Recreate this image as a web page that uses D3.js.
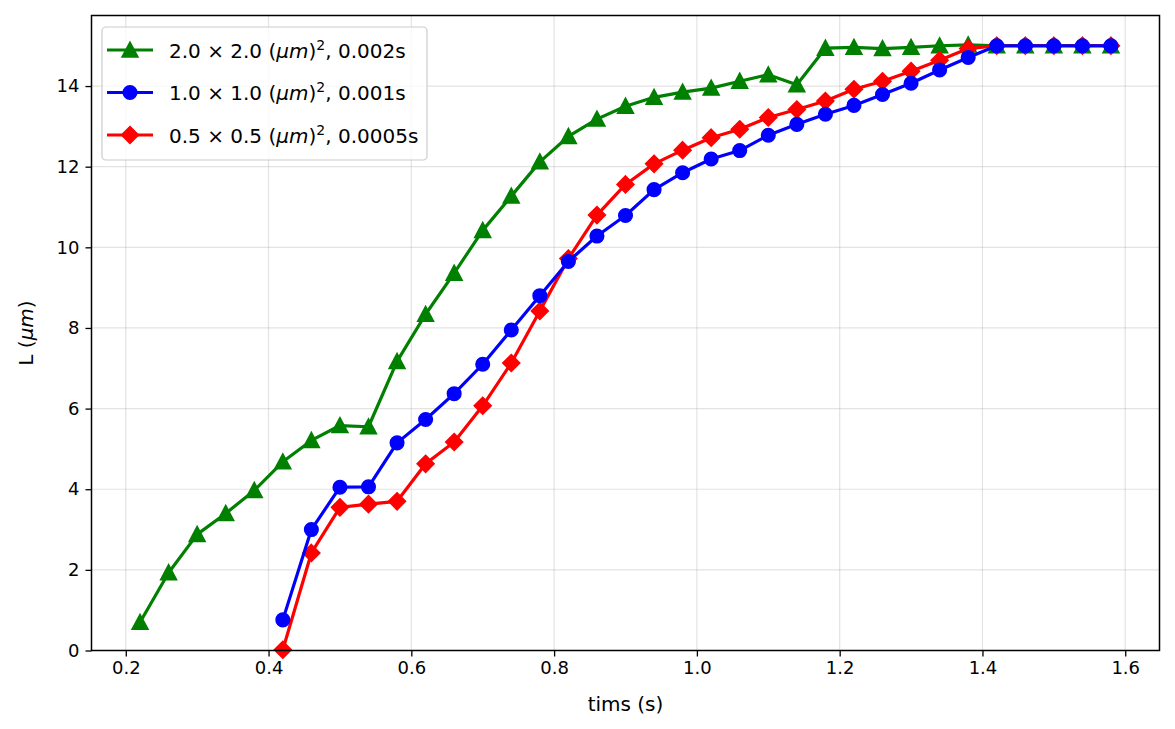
<!DOCTYPE html>
<html>
<head>
<meta charset="utf-8">
<script src="https://cdn.jsdelivr.net/npm/d3@7"></script>
<style>
  html, body { margin: 0; padding: 0; background: #fff; }
  svg { display: block; font-family: "DejaVu Sans", sans-serif; }
</style>
</head>
<body>
<svg id="chart" width="1175" height="729"></svg>
<script>
// ---------- data ----------
const timesGreen = [0.22,0.26,0.30,0.34,0.38,0.42,0.46,0.50,0.54,0.58,0.62,0.66,0.70,0.74,0.78,0.82,0.86,0.90,0.94,0.98,1.02,1.06,1.10,1.14,1.18,1.22,1.26,1.30,1.34,1.38,1.42,1.46,1.50,1.54,1.58];
const valuesGreen = [0.70,1.93,2.88,3.40,3.97,4.68,5.21,5.58,5.55,7.17,8.34,9.36,10.42,11.27,12.12,12.75,13.18,13.50,13.72,13.85,13.95,14.12,14.28,14.03,14.94,14.96,14.93,14.96,15.00,15.02,15.0,15.0,15.0,15.0,15.0];

const timesBlue = [0.42,0.46,0.50,0.54,0.58,0.62,0.66,0.70,0.74,0.78,0.82,0.86,0.90,0.94,0.98,1.02,1.06,1.10,1.14,1.18,1.22,1.26,1.30,1.34,1.38,1.42,1.46,1.50,1.54,1.58];
const valuesBlue = [0.76,3.00,4.05,4.06,5.15,5.73,6.37,7.10,7.95,8.80,9.65,10.28,10.79,11.43,11.85,12.19,12.40,12.78,13.05,13.30,13.52,13.79,14.07,14.40,14.71,15.0,15.0,15.0,15.0,15.0];

const timesRed = [0.42,0.46,0.50,0.54,0.58,0.62,0.66,0.70,0.74,0.78,0.82,0.86,0.90,0.94,0.98,1.02,1.06,1.10,1.14,1.18,1.22,1.26,1.30,1.34,1.38,1.42,1.46,1.50,1.54,1.58];
const valuesRed = [0.02,2.42,3.55,3.63,3.70,4.63,5.17,6.07,7.13,8.42,9.72,10.80,11.56,12.07,12.41,12.72,12.93,13.22,13.42,13.63,13.92,14.12,14.37,14.64,14.93,15.0,15.0,15.0,15.0,15.0];

const xTicks = [0.2,0.4,0.6,0.8,1.0,1.2,1.4,1.6];
const yTicks = [0,2,4,6,8,10,12,14];
const seriesNames = ["green","blue","red"];
const xLabel = "tims (s)";

// ---------- layout ----------
const svg = d3.select("#chart");
const L = 91.5, R = 1159.5, T = 15.5, B = 650.5;
const x = d3.scaleLinear().domain([0.152, 1.648]).range([L, R]);
const y = d3.scaleLinear().domain([0, 15.75]).range([B, T]);

// grid
const grid = svg.append("g");
grid.selectAll("line.gx").data(xTicks).enter().append("line")
  .attr("x1", d => x(d)).attr("x2", d => x(d)).attr("y1", T).attr("y2", B)
  .attr("stroke", "#b0b0b0").attr("stroke-opacity", 0.35).attr("stroke-width", 1.2);
grid.selectAll("line.gy").data(yTicks).enter().append("line")
  .attr("x1", L).attr("x2", R).attr("y1", d => y(d)).attr("y2", d => y(d))
  .attr("stroke", "#b0b0b0").attr("stroke-opacity", 0.35).attr("stroke-width", 1.2);

// axes
const xAxis = d3.axisBottom(x).tickValues(xTicks).tickFormat(d3.format(".1f")).tickSize(6).tickPadding(5);
const yAxis = d3.axisLeft(y).tickValues(yTicks).tickFormat(d3.format("d")).tickSize(6).tickPadding(6);
const gx = svg.append("g").attr("transform", `translate(0,${B})`).call(xAxis);
const gy = svg.append("g").attr("transform", `translate(${L},0)`).call(yAxis);
[gx, gy].forEach(g => {
  g.select(".domain").remove();
  g.selectAll(".tick line").attr("stroke", "#000").attr("stroke-width", 1.3);
  g.selectAll(".tick text").attr("fill", "#000").style("font-size", "18px").style("font-family", "DejaVu Sans");
});
gx.selectAll(".tick text").attr("dy", "0.71em");

// lines + markers
const lineGen = d3.line().x(d => x(d[0])).y(d => y(d[1]));
const series = {
  green: { t: timesGreen, v: valuesGreen, color: "#008000", marker: "triangle" },
  blue:  { t: timesBlue,  v: valuesBlue,  color: "#0000ff", marker: "circle" },
  red:   { t: timesRed,   v: valuesRed,   color: "#ff0000", marker: "diamond" }
};
function markerPath(type) {
  if (type === "triangle") return "M0,-8 L8,7 L-8,7 Z";
  if (type === "diamond") return "M0,-8.5 L8.5,0 L0,8.5 L-8.5,0 Z";
  return null;
}
function drawMarker(g, type, color, cx, cy) {
  if (type === "circle") {
    g.append("circle").attr("cx", cx).attr("cy", cy).attr("r", 6.8)
      .attr("fill", color).attr("stroke", color).attr("stroke-width", 1.5);
  } else {
    g.append("path").attr("d", markerPath(type)).attr("transform", `translate(${cx},${cy})`)
      .attr("fill", color).attr("stroke", color).attr("stroke-width", 1.5).attr("stroke-linejoin", "miter");
  }
}
const plot = svg.append("g");
["green", "red", "blue"].forEach(name => {
  const s = series[name];
  const pts = s.t.map((t, i) => [t, s.v[i]]);
  const g = plot.append("g");
  g.append("path").attr("d", lineGen(pts)).attr("fill", "none")
    .attr("stroke", s.color).attr("stroke-width", 3.2).attr("stroke-linejoin", "round");
  pts.forEach(p => drawMarker(g, s.marker, s.color, x(p[0]), y(p[1])));
});

// spines
svg.append("rect").attr("x", L).attr("y", T).attr("width", R - L).attr("height", B - T)
  .attr("fill", "none").attr("stroke", "#000").attr("stroke-width", 1.5);

// axis labels
svg.append("text").attr("x", (L + R) / 2).attr("y", 711).attr("text-anchor", "middle")
  .style("font-size", "20px").attr("fill", "#000").text(xLabel);
const yl = svg.append("text").attr("transform", `translate(33,${(T + B) / 2}) rotate(-90)`)
  .attr("text-anchor", "middle").style("font-size", "20px").attr("fill", "#000");
yl.append("tspan").text("L (");
yl.append("tspan").style("font-style", "italic").text("μm");
yl.append("tspan").text(")");

// legend
const leg = svg.append("g");
leg.append("rect").attr("x", 102).attr("y", 27).attr("width", 325).attr("height", 133)
  .attr("rx", 4).attr("fill", "#fff").attr("fill-opacity", 0.8)
  .attr("stroke", "#cccccc").attr("stroke-width", 1.2);
const legendItems = [
  { name: "green", a: "2.0", b: "2.0", tail: ", 0.002s" },
  { name: "blue",  a: "1.0", b: "1.0", tail: ", 0.001s" },
  { name: "red",   a: "0.5", b: "0.5", tail: ", 0.0005s" }
];
legendItems.forEach((it, i) => {
  const s = series[it.name];
  const cy = 50 + i * 42.5;
  leg.append("line").attr("x1", 107).attr("x2", 153).attr("y1", cy).attr("y2", cy)
    .attr("stroke", s.color).attr("stroke-width", 3.2);
  drawMarker(leg, s.marker, s.color, 130, cy);
  const t = leg.append("text").attr("x", 169).attr("y", cy + 7.5)
    .style("font-size", "20px").attr("fill", "#000");
  t.append("tspan").text(`${it.a} × ${it.b} (`);
  t.append("tspan").style("font-style", "italic").text("μm");
  t.append("tspan").text(")");
  t.append("tspan").attr("dy", -8).style("font-size", "14px").text("2");
  t.append("tspan").attr("dy", 8).text(it.tail);
});
</script>
</body>
</html>
